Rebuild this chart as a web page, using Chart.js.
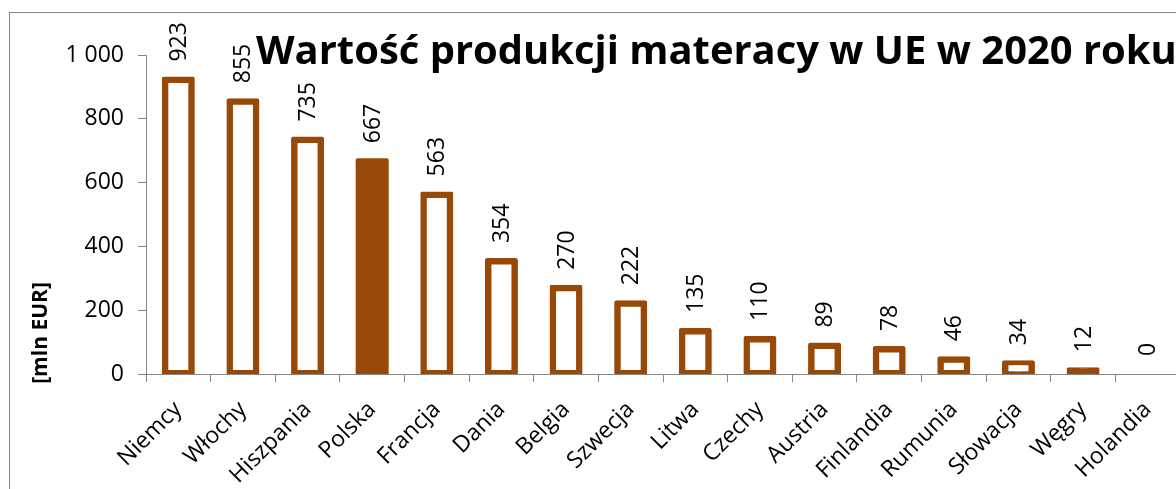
<!DOCTYPE html>
<html>
<head>
<meta charset="utf-8">
<script src="https://cdn.jsdelivr.net/npm/chart.js@4.4.0/dist/chart.umd.min.js"></script>
<style>
html,body{margin:0;padding:0;background:#fff;overflow:hidden;width:1176px;height:489px;}
#frame{position:absolute;left:9px;top:12px;width:1300px;height:600px;border:1px solid #868686;box-sizing:border-box;}
#c{position:absolute;left:0;top:0;}
</style>
</head>
<body>
<div id="frame"></div>
<canvas id="c" width="1210" height="489"></canvas>
<script>
const categories = ["Niemcy","Włochy","Hiszpania","Polska","Francja","Dania","Belgia","Szwecja","Litwa","Czechy","Austria","Finlandia","Rumunia","Słowacja","Węgry","Holandia"];
const values = [923,855,735,667,563,354,270,222,135,110,89,78,46,34,12,0];
const highlight = "Polska";
const yTicks = [0,200,400,600,800,1000];
const titleText = "Wartość produkcji materacy w UE w 2020 roku";
const yTitle = "[mln EUR]";

const BROWN = "#984807";
const GREY = "#868686";
const FONT = "'Open Sans', 'Noto Sans', sans-serif";
const BW = 6.5;

const overlay = {
  id: 'overlay',
  afterDatasetsDraw(chart) {
    const ctx = chart.ctx;
    const meta = chart.getDatasetMeta(0);
    ctx.save();
    ctx.fillStyle = '#000';
    ctx.font = "23px " + FONT;
    ctx.textAlign = 'left';
    ctx.textBaseline = 'middle';
    meta.data.forEach((bar, i) => {
      ctx.save();
      ctx.translate(bar.x + 1, bar.y - 18);
      ctx.rotate(-Math.PI / 2);
      ctx.fillText(String(values[i]), 0, 0);
      ctx.restore();
    });
    // title
    const part = titleText.slice(0, titleText.length - 1);
    ctx.font = "bold 100px " + FONT;
    const w = ctx.measureText(part).width;
    const size = 100 * 895 / w;
    ctx.font = "bold " + size.toFixed(2) + "px " + FONT;
    ctx.textBaseline = 'alphabetic';
    ctx.fillText(titleText, 256, 64);
    // y title
    ctx.font = "bold 21px " + FONT;
    ctx.textAlign = 'center';
    ctx.textBaseline = 'middle';
    ctx.translate(41, 333);
    ctx.rotate(-Math.PI / 2);
    ctx.fillText(yTitle, 0, 0);
    ctx.restore();
  }
};

new Chart(document.getElementById('c'), {
  type: 'bar',
  data: {
    labels: categories,
    datasets: [{
      data: values,
      backgroundColor: (c) => {
        if (categories[c.dataIndex] === highlight) return BROWN;
        const y = c.chart.scales.y;
        if (y && (y.getPixelForValue(0) - y.getPixelForValue(values[c.dataIndex])) < BW) return BROWN;
        return '#ffffff';
      },
      borderColor: BROWN,
      borderWidth: categories.map(c => c === highlight ? 0 : BW),
      borderSkipped: false,
      borderRadius: 2,
      inflateAmount: 3,
      categoryPercentage: 1,
      barPercentage: 0.418
    }]
  },
  options: {
    responsive: false,
    animation: false,
    devicePixelRatio: 1,
    layout: { padding: { top: 55, right: 30, left: 0, bottom: 0 } },
    plugins: { legend: { display: false }, tooltip: { enabled: false }, title: { display: false } },
    scales: {
      x: {
        offset: true,
        grid: { display: true, drawOnChartArea: false, drawTicks: true, tickLength: 8, color: GREY, offset: true },
        border: { display: true, color: GREY, width: 1 },
        ticks: { color: '#000', font: { family: FONT, size: 23 }, minRotation: 45, maxRotation: 45, autoSkip: false, padding: 14 },
        afterFit(scale) { scale.height = 489 - 374; }
      },
      y: {
        min: 0, max: 1000,
        afterBuildTicks(scale) { scale.ticks = yTicks.map(v => ({ value: v })); },
        grid: { display: true, drawOnChartArea: false, drawTicks: true, tickLength: 8, color: GREY },
        border: { display: true, color: GREY, width: 1 },
        ticks: {
          color: '#000', font: { family: FONT, size: 23 }, padding: 14,
          callback: v => String(v).replace(/\B(?=(\d{3})+(?!\d))/g, ' ')
        },
        afterFit(scale) { scale.width = 146; }
      }
    }
  },
  plugins: [overlay]
});
</script>
</body>
</html>
